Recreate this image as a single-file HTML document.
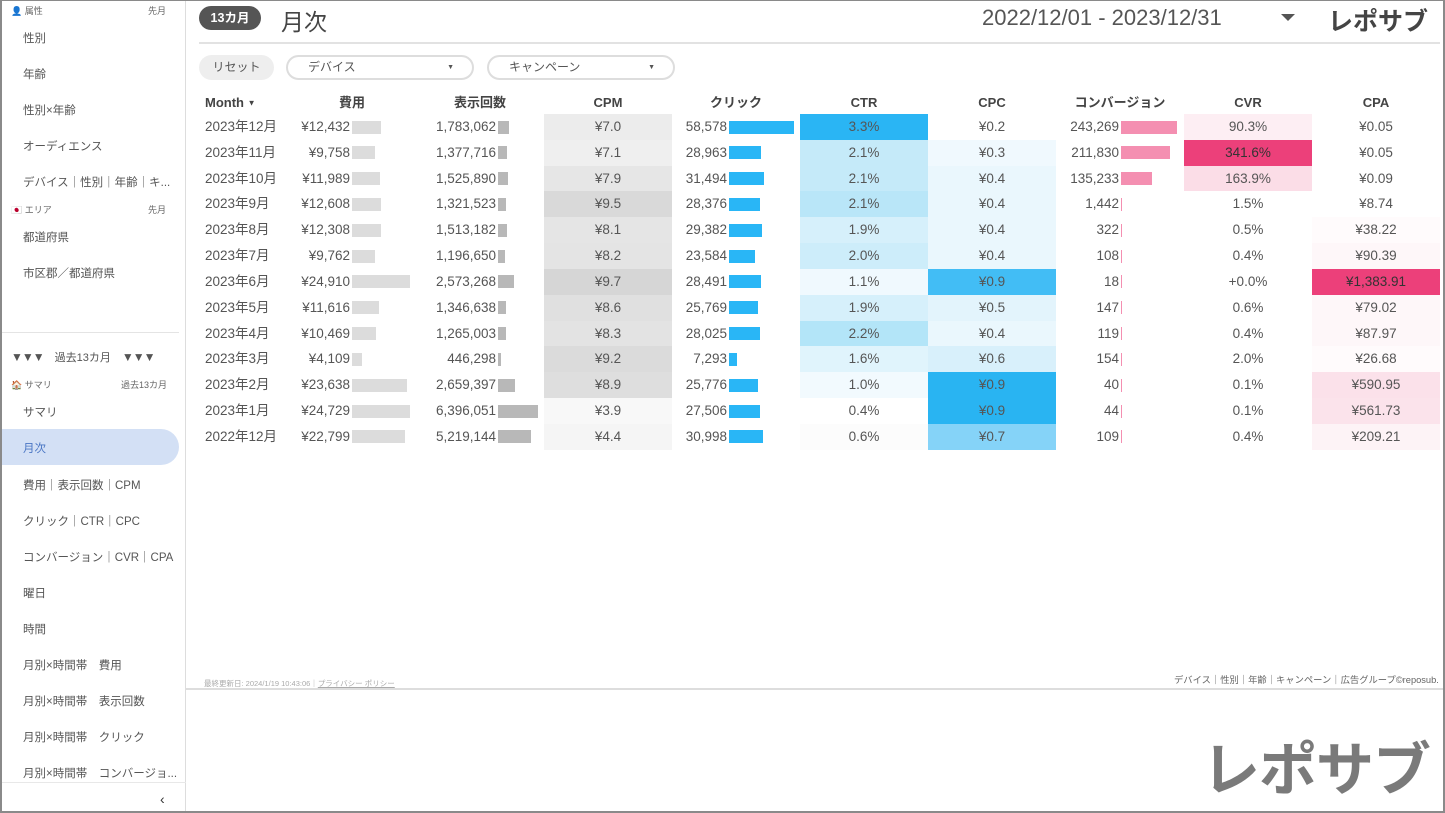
<!DOCTYPE html>
<html><head><meta charset="utf-8">
<style>
*{margin:0;padding:0;box-sizing:border-box}
body{width:1445px;height:813px;overflow:hidden;background:#fff;font-family:"Liberation Sans","Noto Sans CJK JP",sans-serif;color:#555;position:relative}
.frame{position:absolute;left:0;top:0;width:1445px;height:813px;border:2px solid #8a8a8a;border-top:1px solid #8a8a8a}
.abs{position:absolute;white-space:nowrap}
.side{position:absolute;left:2px;top:1px;width:184px;height:810px;border-right:1px solid #ddd}
.si{position:absolute;left:21px;font-size:11.5px;color:#555}
.hd{font-size:9px;color:#666}
.cell{position:absolute;height:26px;line-height:26px;font-size:13.5px;color:#555;white-space:nowrap}
.th{position:absolute;top:94px;height:18px;line-height:18px;font-size:13px;font-weight:bold;color:#444;white-space:nowrap}
</style></head><body>
<div class="side">
 <div class="abs hd" style="left:9px;top:3px">👤 属性</div><div class="abs hd" style="left:146px;top:3px">先月</div>
 <div class="si" style="top:29px">性別</div>
 <div class="si" style="top:65px">年齢</div>
 <div class="si" style="top:101px">性別×年齢</div>
 <div class="si" style="top:137px">オーディエンス</div>
 <div class="si" style="top:173px">デバイス｜性別｜年齢｜キ...</div>
 <div class="abs hd" style="left:9px;top:202px">🇯🇵 エリア</div><div class="abs hd" style="left:146px;top:202px">先月</div>
 <div class="si" style="top:228px">都道府県</div>
 <div class="si" style="top:264px">市区郡／都道府県</div>
 <div class="abs" style="left:0;top:331px;width:177px;border-top:1px solid #e4e4e4"></div>
 <div class="abs" style="left:9px;top:348px;font-size:11px;color:#555"><span style="letter-spacing:-1px;font-size:12px">▼▼▼</span>　過去13カ月　<span style="letter-spacing:-1px;font-size:12px">▼▼▼</span></div>
 <div class="abs hd" style="left:9px;top:377px">🏠 サマリ</div><div class="abs hd" style="left:119px;top:377px">過去13カ月</div>
 <div class="si" style="top:403px">サマリ</div>
 <div class="abs" style="left:0;top:428px;width:177px;height:36px;background:#d3e0f5;border-radius:0 18px 18px 0"></div>
 <div class="si" style="top:439px;color:#4a76c4">月次</div>
 <div class="si" style="top:476px">費用｜表示回数｜CPM</div>
 <div class="si" style="top:512px">クリック｜CTR｜CPC</div>
 <div class="si" style="top:548px">コンバージョン｜CVR｜CPA</div>
 <div class="si" style="top:584px">曜日</div>
 <div class="si" style="top:620px">時間</div>
 <div class="si" style="top:656px">月別×時間帯　費用</div>
 <div class="si" style="top:692px">月別×時間帯　表示回数</div>
 <div class="si" style="top:728px">月別×時間帯　クリック</div>
 <div class="si" style="top:764px">月別×時間帯　コンバージョ...</div>
 <div class="abs" style="left:0;top:781px;width:184px;border-top:1px solid #e8e8e8"></div>
 <div class="abs" style="left:158px;top:790px;font-size:14px;color:#333">‹</div>
</div>
<div class="abs" style="left:199px;top:6px;width:62px;height:24px;border-radius:12px;background:#555;color:#fff;font-size:12.5px;font-weight:bold;line-height:24px;text-align:center">13カ月</div>
<div class="abs" style="left:281px;top:3px;font-size:23px;color:#444">月次</div>
<div class="abs" style="left:982px;top:5px;font-size:22px;color:#555">2022/12/01 - 2023/12/31</div>
<div class="abs" style="left:1281px;top:14px;width:0;height:0;border-left:7px solid transparent;border-right:7px solid transparent;border-top:7px solid #555"></div>
<div class="abs" style="left:1328px;top:2px;font-size:25px;font-weight:bold;color:#444">レポサブ</div>
<div class="abs" style="left:199px;top:42px;width:1241px;border-top:2px solid #e2e2e2"></div>
<div class="abs" style="left:199px;top:55px;width:75px;height:25px;border-radius:13px;background:#eee;font-size:12px;line-height:25px;text-align:center">リセット</div>
<div class="abs" style="left:286px;top:55px;width:188px;height:25px;border-radius:13px;border:2px solid #ddd;font-size:12px;line-height:21px;padding-left:20px">デバイス<span style="position:absolute;right:18px;font-size:7px">▼</span></div>
<div class="abs" style="left:487px;top:55px;width:188px;height:25px;border-radius:13px;border:2px solid #ddd;font-size:12px;line-height:21px;padding-left:20px">キャンペーン<span style="position:absolute;right:18px;font-size:7px">▼</span></div>
<div id="tbl"></div>
<div class="abs" style="left:204px;top:678px;font-size:7.5px;color:#aaa">最終更新日: 2024/1/19 10:43:06｜<u>プライバシー ポリシー</u></div>
<div class="abs" style="left:1174px;top:672px;font-size:9.3px;color:#666">デバイス｜性別｜年齢｜キャンペーン｜広告グループ©reposub.</div>
<div class="abs" style="left:186px;top:688px;width:1257px;border-top:2px solid #ddd"></div>
<div class="abs" style="left:1202px;top:736px;font-size:58px;line-height:70px;font-weight:bold;color:#7a7a7a;letter-spacing:-1px">レポサブ</div>
<div class="frame"></div>
<script>
const rows=[
["2023年12月","¥12,432",12432,"1,783,062",1783062,"¥7.0","#ececec","58,578",58578,"3.3%","#2ab5f4","¥0.2","#fff","243,269",243269,"90.3%","#fdeef3","¥0.05","#fff"],
["2023年11月","¥9,758",9758,"1,377,716",1377716,"¥7.1","#efefef","28,963",28963,"2.1%","#c5eaf9","¥0.3","#f0f9fe","211,830",211830,"341.6%","#ec407a","¥0.05","#fff"],
["2023年10月","¥11,989",11989,"1,525,890",1525890,"¥7.9","#e6e6e6","31,494",31494,"2.1%","#c5eaf9","¥0.4","#eaf7fd","135,233",135233,"163.9%","#fbdde7","¥0.09","#fff"],
["2023年9月","¥12,608",12608,"1,321,523",1321523,"¥9.5","#d9d9d9","28,376",28376,"2.1%","#b9e6f8","¥0.4","#eaf7fd","1,442",1442,"1.5%","#fff","¥8.74","#fff"],
["2023年8月","¥12,308",12308,"1,513,182",1513182,"¥8.1","#e5e5e5","29,382",29382,"1.9%","#d6f0fb","¥0.4","#eaf7fd","322",322,"0.5%","#fff","¥38.22","#fffbfc"],
["2023年7月","¥9,762",9762,"1,196,650",1196650,"¥8.2","#e4e4e4","23,584",23584,"2.0%","#cdedfa","¥0.4","#eaf7fd","108",108,"0.4%","#fff","¥90.39","#fef7f9"],
["2023年6月","¥24,910",24910,"2,573,268",2573268,"¥9.7","#d6d6d6","28,491",28491,"1.1%","#f0f9fe","¥0.9","#42bdf5","18",18,"+0.0%","#fff","¥1,383.91","#ec407a"],
["2023年5月","¥11,616",11616,"1,346,638",1346638,"¥8.6","#e0e0e0","25,769",25769,"1.9%","#d6f0fb","¥0.5","#e3f4fc","147",147,"0.6%","#fff","¥79.02","#fef7f9"],
["2023年4月","¥10,469",10469,"1,265,003",1265003,"¥8.3","#e3e3e3","28,025",28025,"2.2%","#b3e5f8","¥0.4","#eaf7fd","119",119,"0.4%","#fff","¥87.97","#fef7f9"],
["2023年3月","¥4,109",4109,"446,298",446298,"¥9.2","#dbdbdb","7,293",7293,"1.6%","#e0f4fc","¥0.6","#d8f0fb","154",154,"2.0%","#fff","¥26.68","#fffbfc"],
["2023年2月","¥23,638",23638,"2,659,397",2659397,"¥8.9","#dedede","25,776",25776,"1.0%","#f2fafe","¥0.9","#29b4f2","40",40,"0.1%","#fff","¥590.95","#fbe1ea"],
["2023年1月","¥24,729",24729,"6,396,051",6396051,"¥3.9","#f8f8f8","27,506",27506,"0.4%","#fff","¥0.9","#29b4f2","44",44,"0.1%","#fff","¥561.73","#fbe3eb"],
["2022年12月","¥22,799",22799,"5,219,144",5219144,"¥4.4","#f5f5f5","30,998",30998,"0.6%","#fcfcfc","¥0.7","#85d3f8","109",109,"0.4%","#fff","¥209.21","#fdf3f6"]];
let h='';
const th=(x,t,w,a)=>`<div class="th" style="left:${x}px;width:${w}px;text-align:${a}">${t}</div>`;
h+=`<div class="th" style="left:205px">Month <span style="font-size:8px;vertical-align:middle">▼</span></div>`;
h+=th(288,'費用',128,'center')+th(416,'表示回数',128,'center')+th(544,'CPM',128,'center')+th(672,'クリック',128,'center')+th(800,'CTR',128,'center')+th(928,'CPC',128,'center')+th(1056,'コンバージョン',128,'center')+th(1184,'CVR',128,'center')+th(1312,'CPA',128,'center');
rows.forEach((r,i)=>{
 const y=114+i*25.83;
 const c=(x,w,t,bg,al,col)=>`<div class="cell" style="left:${x}px;top:${y}px;width:${w}px;background:${bg||'transparent'};text-align:${al||'center'};color:${col||'#555'}">${t}</div>`;
 const bar=(x,w,col)=>`<div class="abs" style="left:${x}px;top:${y+6.5}px;width:${Math.max(w,1)}px;height:13px;background:${col}"></div>`;
 h+=c(205,90,r[0],'','left');
 h+=c(250,100,r[1],'','right')+bar(352,r[2]*58/24910,'#dcdcdc');
 h+=c(390,106,r[3],'','right')+bar(498,r[4]*40/6396051,'#b8b8b8');
 h+=c(544,128,r[5],r[6]);
 h+=c(630,97,r[7],'','right')+bar(729,r[8]*65/58578,'#29b6f6');
 h+=c(800,128,r[9],r[10]);
 h+=c(928,128,r[11],r[12]);
 h+=c(1020,99,r[13],'','right')+bar(1121,r[14]*56/243269,'#f48fb1');
 h+=c(1184,128,r[15],r[16],'center',r[16]=='#ec407a'?'#333':'#555');
 h+=c(1312,128,r[17],r[18],'center',r[18]=='#ec407a'?'#333':'#555');
});
document.getElementById('tbl').innerHTML=h;
</script>
</body></html>
